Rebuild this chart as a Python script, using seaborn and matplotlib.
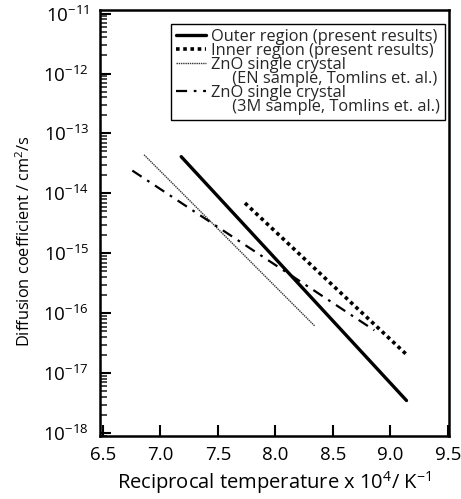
import matplotlib
matplotlib.use("Agg")
import matplotlib.pyplot as plt
import seaborn as sns
import pandas as pd
import numpy as np
from matplotlib.ticker import LogLocator, FixedLocator, NullFormatter
from matplotlib.lines import Line2D

sns.set_theme(style="ticks")
plt.rcParams['font.family'] = ['Open Sans', 'DejaVu Sans']
plt.rcParams['mathtext.fontset'] = 'custom'
plt.rcParams['mathtext.rm'] = 'Open Sans'
plt.rcParams['mathtext.it'] = 'Open Sans:italic'
plt.rcParams['mathtext.bf'] = 'Open Sans:bold'

# Data (endpoints)
outer_x = [7.18, 9.14]
outer_y = [4.1e-14, 3.5e-18]
inner_x = [7.735, 9.146]
inner_y = [6.9e-15, 2.0e-17]
en_x = [6.857, 8.343]
en_y = [4.4e-14, 6.1e-17]
m3_x = [6.755, 8.86]
m3_y = [2.4e-14, 5.2e-17]

labels = ["Outer region (present results)",
          "Inner region (present results)",
          "ZnO single crystal",
          "ZnO single crystal"]
sublabels = ["(EN sample, Tomlins et. al.)", "(3M sample, Tomlins et. al.)"]
xticks = [6.5, 7.0, 7.5, 8.0, 8.5, 9.0, 9.5]
ydecades = [-18, -17, -16, -15, -14, -13, -12, -11]

fig = plt.figure(figsize=(4.61, 4.99), dpi=100)
ax = fig.add_axes([0.217, 0.126, 0.757, 0.854])

styles = [
    dict(color='black', linewidth=2.4, linestyle='-'),
    dict(color='black', linewidth=2.6, linestyle=(0, (1.0, 1.0))),
    dict(color='#333333', linewidth=1.0, linestyle=(0, (1.0, 0.6))),
    dict(color='black', linewidth=1.6, linestyle=(0, (5, 3, 1.2, 3))),
]
series = [(outer_x, outer_y), (inner_x, inner_y), (en_x, en_y), (m3_x, m3_y)]
for (xs, ys), st in zip(series, styles):
    df = pd.DataFrame({"x": xs, "y": ys})
    sns.lineplot(data=df, x="x", y="y", ax=ax, **st)

ax.set_yscale('log')
ax.set_xlim(6.474, 9.51)
ax.set_ylim(10**-18.05, 10**-10.94)
ax.xaxis.set_major_locator(FixedLocator(xticks))
ax.set_xticklabels([f"{t:.1f}" for t in xticks])
ax.yaxis.set_major_locator(FixedLocator([10.0**d for d in ydecades]))
ax.set_yticklabels([rf"$10^{{{d}}}$" for d in ydecades])
ax.yaxis.set_minor_locator(LogLocator(base=10, subs=np.arange(2, 10), numticks=20))
ax.yaxis.set_minor_formatter(NullFormatter())

ax.tick_params(axis='both', which='major', direction='in', length=8, width=1.5,
               labelsize=13.5, colors='black')
ax.tick_params(axis='x', which='major', pad=7)
ax.tick_params(axis='y', which='major', pad=8)
ax.tick_params(axis='y', which='minor', direction='in', length=5, width=1.2)
ax.tick_params(axis='x', which='minor', bottom=False)
for s in ax.spines.values():
    s.set_linewidth(1.8)
    s.set_color('black')

ax.set_xlabel(r"Reciprocal temperature x 10$^{4}$/ K$^{-1}$", fontsize=14.5, color='black', labelpad=4)
ax.set_ylabel(r"Diffusion coefficient / cm$^{2}$/s", fontsize=11.8, color='black')
ax.yaxis.set_label_coords(-0.19, 0.458)

# Legend handles (styles of the drawn lines); second text lines get blank handles
lines = ax.get_lines()
blank = Line2D([], [], linestyle='none')
handles = [lines[0], lines[1], lines[2], blank, lines[3], blank]
indent = "     "
leg_labels = [labels[0], labels[1], labels[2], indent + sublabels[0],
              labels[3], indent + sublabels[1]]
leg = ax.legend(handles, leg_labels, loc='upper right', bbox_to_anchor=(0.988, 0.967),
                borderaxespad=0, fontsize=11.8, frameon=True, fancybox=False,
                edgecolor='black', framealpha=1, handlelength=1.85, handletextpad=0.3,
                borderpad=0.3, labelspacing=-0.12)
leg.get_frame().set_linewidth(1.0)

fig.savefig("out.png", dpi=100)
